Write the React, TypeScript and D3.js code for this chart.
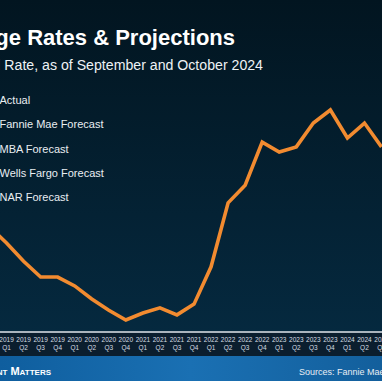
import React from "react";
import * as d3 from "d3";

const categories = [
  "2018 Q4",
  "2019 Q1", "2019 Q2", "2019 Q3", "2019 Q4",
  "2020 Q1", "2020 Q2", "2020 Q3", "2020 Q4",
  "2021 Q1", "2021 Q2", "2021 Q3", "2021 Q4",
  "2022 Q1", "2022 Q2", "2022 Q3", "2022 Q4",
  "2023 Q1", "2023 Q2", "2023 Q3", "2023 Q4",
  "2024 Q1", "2024 Q2", "2024 Q3",
];
const actualRates = [
  4.8,
  4.45, 4.06, 3.72, 3.72,
  3.53, 3.25, 3.01, 2.8,
  2.95, 3.06, 2.91, 3.14,
  3.94, 5.31, 5.69, 6.61,
  6.4, 6.51, 7.02, 7.3,
  6.7, 7.02, 6.51,
];
const legendLabels = [
  "Actual",
  "Fannie Mae Forecast",
  "MBA Forecast",
  "Wells Fargo Forecast",
  "NAR Forecast",
];
const title = "Mortgage Rates & Projections";
const subtitle = "30-Year Fixed Rate, as of September and October 2024";
const brand = "Keeping Current Matters";
const sources = "Sources: Fannie Mae, MBA, Wells Fargo, NAR";

const W = 382;
const H = 381;

export default function App() {
  const x = d3.scalePoint<string>().domain(categories).range([-10.5, 381.5]);
  const y = d3.scaleLinear().domain([2.8, 7.3]).range([320, 110]);
  const line = d3
    .line<number>()
    .x((_, i) => x(categories[i]) as number)
    .y((d) => y(d));
  const font = "'Liberation Sans', Arial, sans-serif";

  return (
    <div style={{ position: "absolute", left: 0, top: 0 }}>
      <svg width={W} height={H} style={{ display: "block" }} fontFamily={font}>
        <defs>
          <linearGradient id="bg" x1="0" y1="0" x2="0" y2="1">
            <stop offset="0%" stopColor="#021520" />
            <stop offset="100%" stopColor="#05293f" />
          </linearGradient>
          <linearGradient id="banner" x1="0" y1="0" x2="1" y2="0">
            <stop offset="0%" stopColor="#0f5e9e" />
            <stop offset="50%" stopColor="#1a70b3" />
            <stop offset="100%" stopColor="#135f9c" />
          </linearGradient>
        </defs>
        <rect x={0} y={0} width={W} height={332} fill="url(#bg)" />
        <rect x={0} y={332} width={W} height={24} fill="#0b1e2e" />
        <rect x={0} y={331} width={W} height={2} fill="#aab4bd" />
        <rect x={0} y={356} width={W} height={H - 356} fill="url(#banner)" />

        <text x={235} y={45} textAnchor="end" fill="#ffffff" fontSize={22} fontWeight="bold">
          {title}
        </text>
        <text x={263} y={70} textAnchor="end" fill="#eef2f5" fontSize={14.15}>
          {subtitle}
        </text>

        {legendLabels.map((l, i) => (
          <text key={l} x={-0.5} y={104 + i * 24.3} fill="#e9eef2" fontSize={11}>
            {l}
          </text>
        ))}

        <path
          d={line(actualRates) || ""}
          fill="none"
          stroke="#f28b30"
          strokeWidth={3.6}
        />

        {categories.map((c) => {
          const [yr, q] = c.split(" ");
          const cx = x(c) as number;
          return (
            <g key={c} fill="#d6dde3" fontSize={6.5} textAnchor="middle">
              <text x={cx} y={342}>{yr}</text>
              <text x={cx} y={349.5}>{q}</text>
            </g>
          );
        })}

        <text
          x={51}
          y={375}
          textAnchor="end"
          fill="#ffffff"
          fontSize={11}
          fontWeight="bold"
          style={{ fontVariant: "small-caps" }}
        >
          {brand}
        </text>
        <text x={299} y={375} fill="#e8eef4" fontSize={9}>
          {sources}
        </text>
      </svg>
    </div>
  );
}
